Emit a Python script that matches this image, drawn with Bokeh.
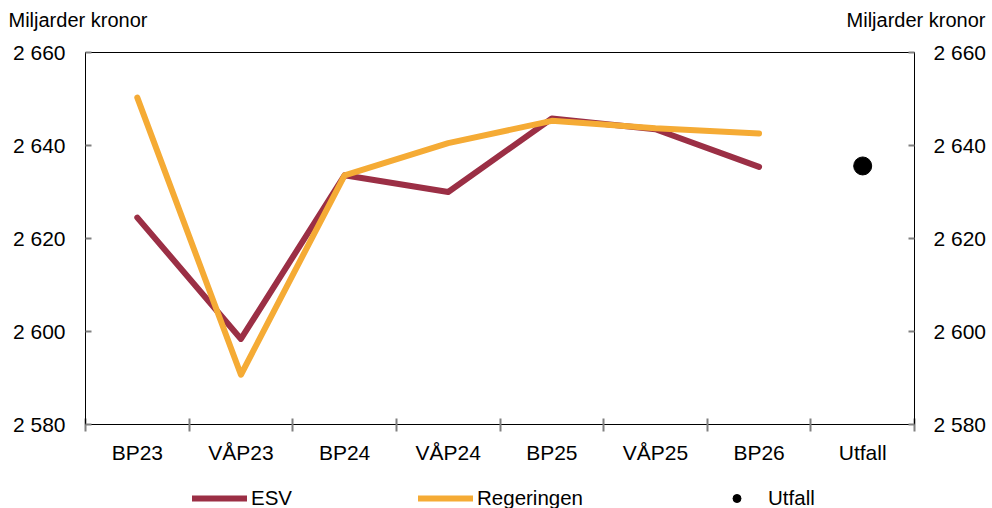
from bokeh.plotting import figure
from bokeh.layouts import column
from bokeh.models import LinearAxis, FixedTicker, Range1d, Legend, LegendItem, Label
from bokeh.embed import file_html
from bokeh.resources import INLINE

categories = ["BP23", "VÅP23", "BP24", "VÅP24", "BP25", "VÅP25", "BP26", "Utfall"]
esv = [2624.5, 2598.4, 2633.6, 2630.0, 2645.8, 2643.5, 2635.4]
regeringen = [2650.3, 2590.7, 2633.6, 2640.5, 2645.3, 2643.7, 2642.6]
utfall = [2635.6]
y_ticks = [2580, 2600, 2620, 2640, 2660]
unit_label = "Miljarder kronor"

FONT = "Liberation Sans"
FS = "21px"
ESV_COLOR = "#9B2F45"
REG_COLOR = "#F5AB35"
TICK_COLOR = "#808080"
W = 992

n = len(categories)
centers = [i + 0.5 for i in range(n)]
boundaries = list(range(n + 1))
y_labels = {v: f"{v:,}".replace(",", " ") for v in y_ticks}
esv_x = centers[:len(esv)]
reg_x = centers[:len(regeringen)]
ut_x = [centers[categories.index("Utfall")]]


def bare(height):
    f = figure(width=W, height=height, x_range=Range1d(0, W), y_range=Range1d(0, height),
               x_axis_type=None, y_axis_type=None, output_backend="svg", toolbar_location=None,
               min_border=0, frame_align=False)
    f.xgrid.visible = False
    f.ygrid.visible = False
    f.outline_line_color = None
    return f


# ---- top strip with unit labels
top = bare(40)
for x, align in [(8, "left"), (985, "right")]:
    top.add_layout(Label(x=x, y=20.5, text=unit_label, text_align=align,
                         text_baseline="alphabetic", text_font=FONT, text_font_size="20px",
                         text_color="black"))

# ---- main chart
p = figure(width=W, height=426, x_range=Range1d(0, n), y_range=Range1d(y_ticks[0], y_ticks[-1]),
           output_backend="svg", toolbar_location=None, frame_align=False,
           min_border_left=85, min_border_right=78, min_border_top=12, min_border_bottom=41)
p.xgrid.visible = False
p.ygrid.visible = False
p.outline_line_color = "black"
p.outline_line_alpha = 1
p.outline_line_width = 1

xa = p.xaxis[0]
xa.ticker = FixedTicker(ticks=centers, minor_ticks=boundaries)
xa.major_label_overrides = {c: lab for c, lab in zip(centers, categories)}
xa.major_tick_line_color = None
xa.major_tick_in = 0
xa.major_tick_out = 7
xa.minor_tick_in = 6
xa.minor_tick_out = 7
xa.minor_tick_line_color = TICK_COLOR
xa.minor_tick_line_width = 2
xa.axis_line_color = "black"
xa.major_label_text_font = FONT
xa.major_label_text_font_size = FS
xa.major_label_text_color = "black"
xa.major_label_standoff = 9


def style_y(ax, standoff):
    ax.ticker = FixedTicker(ticks=y_ticks, minor_ticks=[])
    ax.major_label_overrides = y_labels
    ax.major_tick_in = 6
    ax.major_tick_out = 0
    ax.major_tick_line_color = TICK_COLOR
    ax.major_tick_line_width = 2
    ax.minor_tick_line_color = None
    ax.axis_line_color = "black"
    ax.major_label_text_font = FONT
    ax.major_label_text_font_size = FS
    ax.major_label_text_color = "black"
    ax.major_label_standoff = standoff


style_y(p.yaxis[0], 20)
ra = LinearAxis()
style_y(ra, 19)
p.add_layout(ra, "right")

line_style = dict(line_width=6, line_cap="round", line_join="round")
p.line(esv_x, esv, line_color=ESV_COLOR, **line_style)
p.line(reg_x, regeringen, line_color=REG_COLOR, **line_style)
p.scatter(ut_x, utfall, size=18, color="black")

# ---- legend strip (series repeated out of this strip's visible range, only the keys show)
leg = bare(42)
k_esv = leg.line(esv_x, esv, line_color=ESV_COLOR, **line_style)
k_reg = leg.line(reg_x, regeringen, line_color=REG_COLOR, **line_style)
k_ut = leg.scatter(ut_x, utfall, size=18, color="black")
legend = Legend(items=[LegendItem(label="ESV", renderers=[k_esv]),
                       LegendItem(label="Regeringen", renderers=[k_reg]),
                       LegendItem(label="Utfall", renderers=[k_ut])],
                orientation="horizontal", location=(192, -2), spacing=126,
                glyph_width=55, glyph_height=20, label_standoff=4, padding=0, margin=0,
                border_line_color=None, background_fill_alpha=0,
                label_text_font=FONT, label_text_font_size="20.5px", label_text_color="black")
leg.add_layout(legend)

page = column(top, p, leg, spacing=0)
open("out.html", "w").write(file_html(page, INLINE))
